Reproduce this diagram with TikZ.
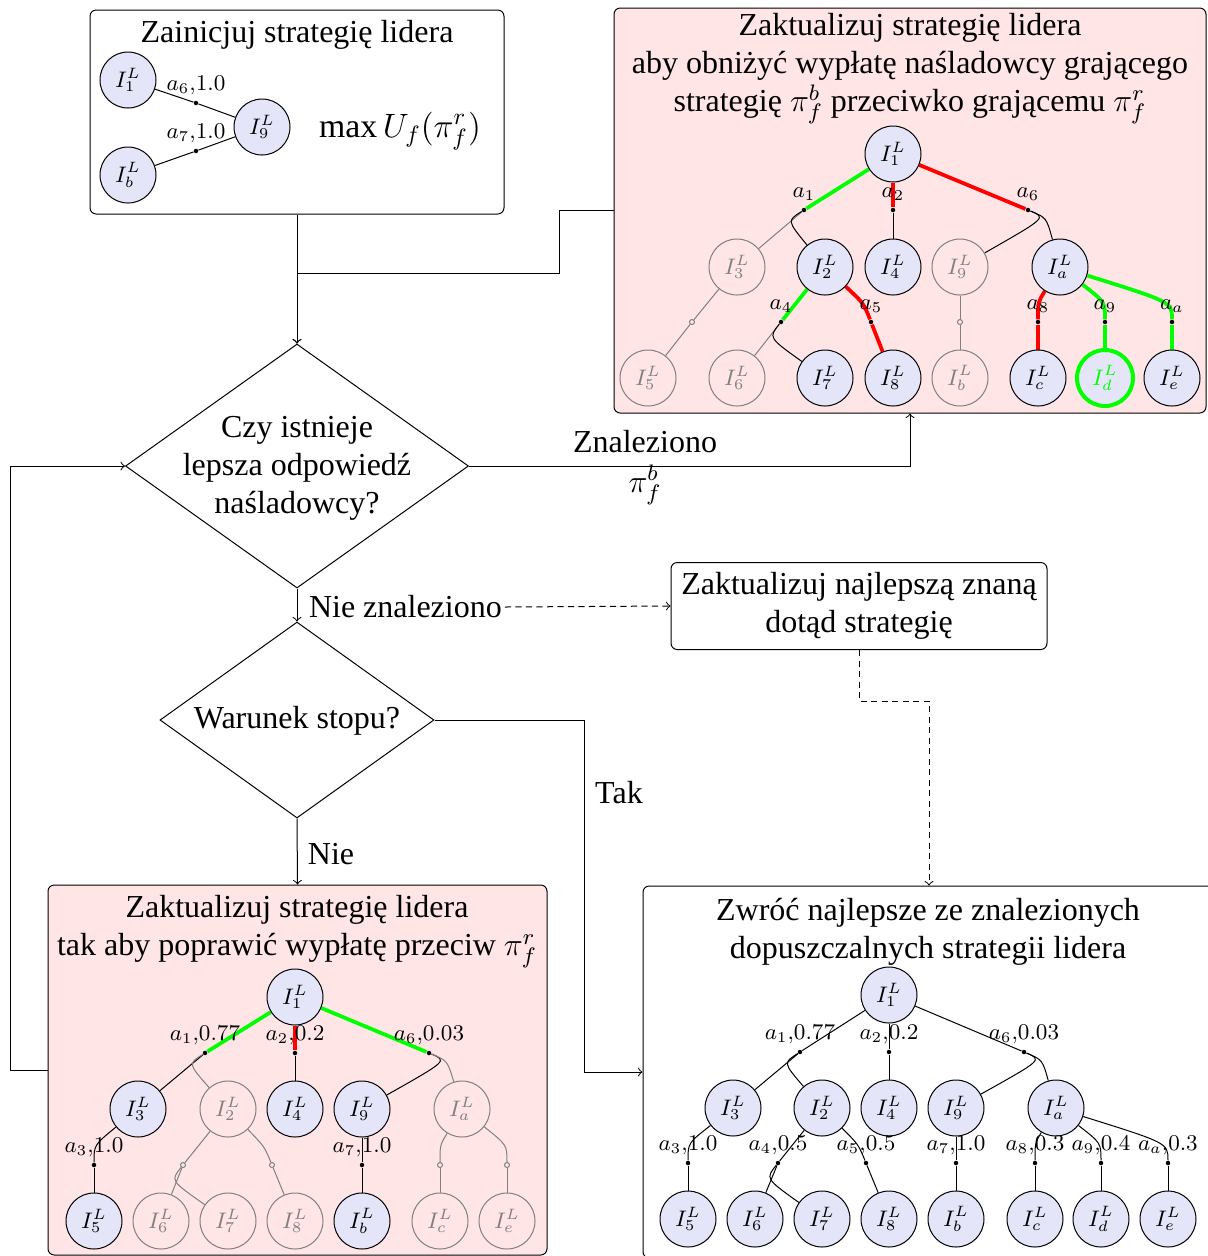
\RequirePackage{fix-cm}
\documentclass[tikz,border=0pt]{standalone}
\usepackage{fontspec}
\setmainfont{Liberation Serif}
\usetikzlibrary{shapes.geometric,calc}

% one drawing unit = 0.4pt
\newcommand\pxl{0.4pt}
\definecolor{boxpink}{RGB}{255,229,229}
\definecolor{nodefill}{RGB}{229,229,250}
\definecolor{selgreen}{RGB}{0,255,0}
\definecolor{selred}{RGB}{255,0,0}

\pgfdeclarelayer{panels}
\pgfdeclarelayer{edges}
\pgfsetlayers{panels,edges,main}

% dot -> child, leaving the dot along the parent -> dot direction
\newcommand\contedge[4][]{\draw[#1] (#3) .. controls ($(#3)!-8pt!(#2)$) .. (#4);}
% parent -> dot, arriving at the dot along the dot -> child direction
\newcommand\feededge[4][]{\draw[#1] (#2) .. controls ($(#3)!-8pt!(#4)$) .. (#3);}

\tikzset{
  txt/.style={font=\fontsize{12.8}{15.2}\selectfont},
  panel/.style={draw, rounded corners=2.5pt, inner sep=2pt},
  hotpanel/.style={panel, fill=boxpink},
  decision/.style={diamond, draw, inner sep=0pt},
  info/.style={circle, draw, fill=nodefill, minimum size=56*\pxl, inner sep=0pt,
               font=\fontsize{9}{10}\selectfont},
  ghost/.style={info, draw=gray, fill=none, text=gray},
  chosen/.style={info, draw=selgreen, line width=1.6pt, text=selgreen},
  act/.style={circle, fill=black, inner sep=0pt, minimum size=4.5*\pxl},
  hol/.style={circle, draw=gray, inner sep=0pt, minimum size=5*\pxl},
  lbl/.style={font=\fontsize{9}{10}\selectfont, inner sep=1pt, above=2pt},
  lblr/.style={lbl, above=0.8pt},
  gl/.style={draw=gray},
  gsel/.style={draw=selgreen, line width=1.5pt},
  rsel/.style={draw=selred, line width=1.5pt},
  flow/.style={->},
  weak/.style={->, dash pattern=on 2.5pt off 1.7pt},
}

\begin{document}
\begin{tikzpicture}[x=0.4pt, y=-0.4pt]
\useasboundingbox (0,0) rectangle (1208,1256);
\clip (0,0) rectangle (1208,1256);

% ---------- panels and decisions ----------
\begin{pgfonlayer}{panels}
\node[panel, minimum width=414*\pxl, minimum height=204*\pxl] (start) at (297,112) {};
\node[hotpanel, minimum width=592*\pxl, minimum height=405*\pxl] (upd) at (910,210.5) {};
\node[hotpanel, minimum width=499*\pxl, minimum height=370*\pxl] (improve) at (297.5,1070) {};
\node[panel, minimum width=572*\pxl, minimum height=372*\pxl] (result) at (929,1072) {};
\node[panel, txt, align=center, minimum width=376*\pxl, minimum height=87*\pxl] (best) at (859,606)
  {Zaktualizuj najlepszą znaną\\dotąd strategię};
\node[decision, minimum width=343*\pxl, minimum height=244*\pxl] (q1) at (297,466) {};
\node[decision, minimum width=274*\pxl, minimum height=196*\pxl] (q2) at (297,720) {};
\end{pgfonlayer}

% ---------- texts ----------
\node[txt] (startT) at (297,35) {Zainicjuj strategię lidera};
\node[txt, align=center] (updT) at (910,69)
  {Zaktualizuj strategię lidera\\aby obniżyć wypłatę naśladowcy grającego\\strategię $\pi_f^b$ przeciwko grającemu $\pi_f^r$};
\node[txt, align=center] (improveT) at (297,932)
  {Zaktualizuj strategię lidera\\tak aby poprawić wypłatę przeciw $\pi_f^r$};
\node[txt, align=center] (resultT) at (928,931.5)
  {Zwróć najlepsze ze znalezionych\\dopuszczalnych strategii lidera};
\node[txt, align=center] (q1T) at (297,468.5) {Czy istnieje\\lepsza odpowiedź\\naśladowcy?};
\node[txt] (q2T) at (297,721) {Warunek stopu?};
\node[font=\fontsize{13.5}{16}\selectfont] (objective) at (400,131) {$\max U_f(\pi_f^r)$};
\node[txt] (lz) at (645,442) {Znaleziono};
\node[txt] (lzb) at (645,485) {$\pi_f^b$};
\node[txt, anchor=west, inner sep=1pt] (nz) at (306,607) {Nie znaleziono};
\node[txt] (ltak) at (619,793) {Tak};
\node[txt] (lnie) at (331,854) {Nie};

% ---------- initial strategy ----------
\node[info] (s1) at (128,80) {$I^L_1$};
\node[info] (s9) at (262,127) {$I^L_9$};
\node[info] (sb) at (128,175) {$I^L_b$};
\node[act] (sx6) at (196,103) {};
\node[act] (sx7) at (196,151) {};
\node[lbl] (sl6) at (sx6) {$a_6{,}1.0$};
\node[lbl] (sl7) at (sx7) {$a_7{,}1.0$};

% ---------- tree: lowering the follower's payoff ----------
\node[info] (r1) at (893,154) {$I^L_1$};
\node[ghost] (r3) at (737,267) {$I^L_3$};
\node[info] (r2) at (825,267) {$I^L_2$};
\node[info] (r4) at (893,267) {$I^L_4$};
\node[ghost] (r9) at (960,267) {$I^L_9$};
\node[info] (ra) at (1060,267) {$I^L_a$};
\node[ghost] (r5) at (648,378) {$I^L_5$};
\node[ghost] (r6) at (737,378) {$I^L_6$};
\node[info] (r7) at (825,378) {$I^L_7$};
\node[info] (r8) at (893,378) {$I^L_8$};
\node[ghost] (rb) at (960,378) {$I^L_b$};
\node[info] (rc) at (1038,378) {$I^L_c$};
\node[chosen] (rd) at (1105,378) {$I^L_d$};
\node[info] (re) at (1172,378) {$I^L_e$};
\node[act] (rx1) at (804,210) {};
\node[act] (rx2) at (893,210) {};
\node[act] (rx6) at (1028,210) {};
\node[hol] (rh3) at (692,322) {};
\node[act] (rx4) at (781,322) {};
\node[act] (rx5) at (871,322) {};
\node[hol] (rh9) at (960,322) {};
\node[act] (rx8) at (1038,322) {};
\node[act] (rx9) at (1105,322) {};
\node[act] (rxa) at (1172,322) {};
\node[lblr] (rl1) at (rx1) {$a_1$};
\node[lblr] (rl2) at (rx2) {$a_2$};
\node[lblr] (rl6) at (rx6) {$a_6$};
\node[lblr] (rl4) at (rx4) {$a_4$};
\node[lblr] (rl5) at (rx5) {$a_5$};
\node[lblr] (rl8) at (rx8) {$a_8$};
\node[lblr] (rl9) at (rx9) {$a_9$};
\node[lblr] (rla) at (rxa) {$a_a$};

% ---------- tree: improving the leader's payoff ----------
\node[info] (l1) at (295,997) {$I^L_1$};
\node[info] (l3) at (138,1109) {$I^L_3$};
\node[ghost] (l2) at (228,1109) {$I^L_2$};
\node[info] (l4) at (295,1109) {$I^L_4$};
\node[info] (l9) at (362,1109) {$I^L_9$};
\node[ghost] (la) at (462,1109) {$I^L_a$};
\node[info] (l5) at (94,1221) {$I^L_5$};
\node[ghost] (l6) at (161,1221) {$I^L_6$};
\node[ghost] (l7) at (228,1221) {$I^L_7$};
\node[ghost] (l8) at (295,1221) {$I^L_8$};
\node[info] (lb) at (362,1221) {$I^L_b$};
\node[ghost] (lc) at (440,1221) {$I^L_c$};
\node[ghost] (le) at (507,1221) {$I^L_e$};
\node[act] (lx1) at (205,1053) {};
\node[act] (lx2) at (295,1053) {};
\node[act] (lx6) at (429,1053) {};
\node[act] (lx3) at (94,1165) {};
\node[act] (lx7) at (362,1165) {};
\node[hol] (lh6) at (183,1165) {};
\node[hol] (lh8) at (272,1165) {};
\node[hol] (lhc) at (440,1165) {};
\node[hol] (lhe) at (507,1165) {};
\node[lbl] (ll1) at (lx1) {$a_1{,}0.77$};
\node[lbl] (ll2) at (lx2) {$a_2{,}0.2$};
\node[lbl] (ll6) at (lx6) {$a_6{,}0.03$};
\node[lbl] (ll3) at (lx3) {$a_3{,}1.0$};
\node[lbl] (ll7) at (lx7) {$a_7{,}1.0$};

% ---------- tree: best feasible strategy ----------
\node[info] (f1) at (889,995) {$I^L_1$};
\node[info] (f3) at (733,1108) {$I^L_3$};
\node[info] (f2) at (822,1108) {$I^L_2$};
\node[info] (f4) at (889,1108) {$I^L_4$};
\node[info] (f9) at (956,1108) {$I^L_9$};
\node[info] (fa) at (1056,1108) {$I^L_a$};
\node[info] (f5) at (688,1219) {$I^L_5$};
\node[info] (f6) at (755,1219) {$I^L_6$};
\node[info] (f7) at (822,1219) {$I^L_7$};
\node[info] (f8) at (889,1219) {$I^L_8$};
\node[info] (fb) at (956,1219) {$I^L_b$};
\node[info] (fc) at (1035,1219) {$I^L_c$};
\node[info] (fd) at (1101,1219) {$I^L_d$};
\node[info] (fe) at (1168,1219) {$I^L_e$};
\node[act] (fx1) at (800,1052) {};
\node[act] (fx2) at (889,1052) {};
\node[act] (fx6) at (1024,1052) {};
\node[act] (fx3) at (688,1163) {};
\node[act] (fx4) at (778,1163) {};
\node[act] (fx5) at (866,1163) {};
\node[act] (fx7) at (956,1163) {};
\node[act] (fx8) at (1035,1163) {};
\node[act] (fx9) at (1101,1163) {};
\node[act] (fxa) at (1168,1163) {};
\node[lbl] (fl1) at (fx1) {$a_1{,}0.77$};
\node[lbl] (fl2) at (fx2) {$a_2{,}0.2$};
\node[lbl] (fl6) at (fx6) {$a_6{,}0.03$};
\node[lbl] (fl3) at (fx3) {$a_3{,}1.0$};
\node[lbl] (fl4) at (fx4) {$a_4{,}0.5$};
\node[lbl] (fl5) at (fx5) {$a_5{,}0.5$};
\node[lbl] (fl7) at (fx7) {$a_7{,}1.0$};
\node[lbl] (fl8) at (fx8) {$a_8{,}0.3$};
\node[lbl] (fl9) at (fx9) {$a_9{,}0.4$};
\node[lbl] (fla) at (fxa) {$a_a{,}0.3$};

% ---------- tree edges ----------
\begin{pgfonlayer}{edges}
% initial strategy
\draw (s1) -- (sx6) -- (s9);
\draw (sb) -- (sx7) -- (s9);

% lowering the follower's payoff
\draw[gsel] (r1) -- (rx1);
\draw[gl] (rx1) -- (r3);
\contedge{r1}{rx1}{r2}
\draw[rsel] (r1) -- (rx2);
\draw (rx2) -- (r4);
\draw[rsel] (r1) -- (rx6);
\contedge{r1}{rx6}{r9}
\contedge{r1}{rx6}{ra}
\draw[gl] (r3) -- (rh3) -- (r5);
\draw[gsel] (r2) -- (rx4);
\draw[gl] (rx4) -- (r6);
\contedge{r2}{rx4}{r7}
\feededge[rsel]{r2}{rx5}{r8}
\draw[rsel] (rx5) -- (r8);
\draw[gl] (r9) -- (rh9) -- (rb);
\feededge[rsel]{ra}{rx8}{rc}
\draw[rsel] (rx8) -- (rc);
\feededge[gsel]{ra}{rx9}{rd}
\draw[gsel] (rx9) -- (rd);
\feededge[gsel]{ra}{rxa}{re}
\draw[gsel] (rxa) -- (re);

% improving the leader's payoff
\draw[gsel] (l1) -- (lx1);
\draw (lx1) -- (l3);
\contedge[gl]{l1}{lx1}{l2}
\draw[rsel] (l1) -- (lx2);
\draw (lx2) -- (l4);
\draw[gsel] (l1) -- (lx6);
\contedge{l1}{lx6}{l9}
\contedge[gl]{l1}{lx6}{la}
\feededge{l3}{lx3}{l5}
\draw (lx3) -- (l5);
\draw (l9) -- (lx7) -- (lb);
\draw[gl] (l2) -- (lh6);
\draw[gl] (lh6) -- (l6);
\contedge[gl]{l2}{lh6}{l7}
\feededge[gl]{l2}{lh8}{l8}
\draw[gl] (lh8) -- (l8);
\feededge[gl]{la}{lhc}{lc}
\draw[gl] (lhc) -- (lc);
\feededge[gl]{la}{lhe}{le}
\draw[gl] (lhe) -- (le);

% best feasible strategy
\draw (f1) -- (fx1);
\draw (fx1) -- (f3);
\contedge{f1}{fx1}{f2}
\draw (f1) -- (fx2) -- (f4);
\draw (f1) -- (fx6);
\contedge{f1}{fx6}{f9}
\contedge{f1}{fx6}{fa}
\feededge{f3}{fx3}{f5}
\draw (fx3) -- (f5);
\draw (f2) -- (fx4);
\draw (fx4) -- (f6);
\contedge{f2}{fx4}{f7}
\feededge{f2}{fx5}{f8}
\draw (fx5) -- (f8);
\draw (f9) -- (fx7) -- (fb);
\feededge{fa}{fx8}{fc}
\draw (fx8) -- (fc);
\feededge{fa}{fx9}{fd}
\draw (fx9) -- (fd);
\feededge{fa}{fxa}{fe}
\draw (fxa) -- (fe);
\end{pgfonlayer}

% ---------- flow connectors ----------
\coordinate (j1) at (559,273);
\coordinate (j2) at (859,701);
\coordinate (j3) at (584,720);
\coordinate (j4) at (10,1070);
\draw[flow] (start.south) -- (q1.north);
\draw[flow] (upd.west) -| (j1) -| (q1.north);
\draw[flow] (q1.east) -| (upd.south);
\draw[flow] (q1.south) -- (q2.north);
\draw[weak] (nz.east) -- (best.west);
\draw[weak] (best.south) -- (j2) -| (result.north);
\draw[flow] (q2.east) -- (j3) |- (result.west);
\draw[flow] (q2.south) -- (improve.north);
\draw[flow] (improve.west) -- (j4) |- (q1.west);
\end{tikzpicture}
\end{document}
